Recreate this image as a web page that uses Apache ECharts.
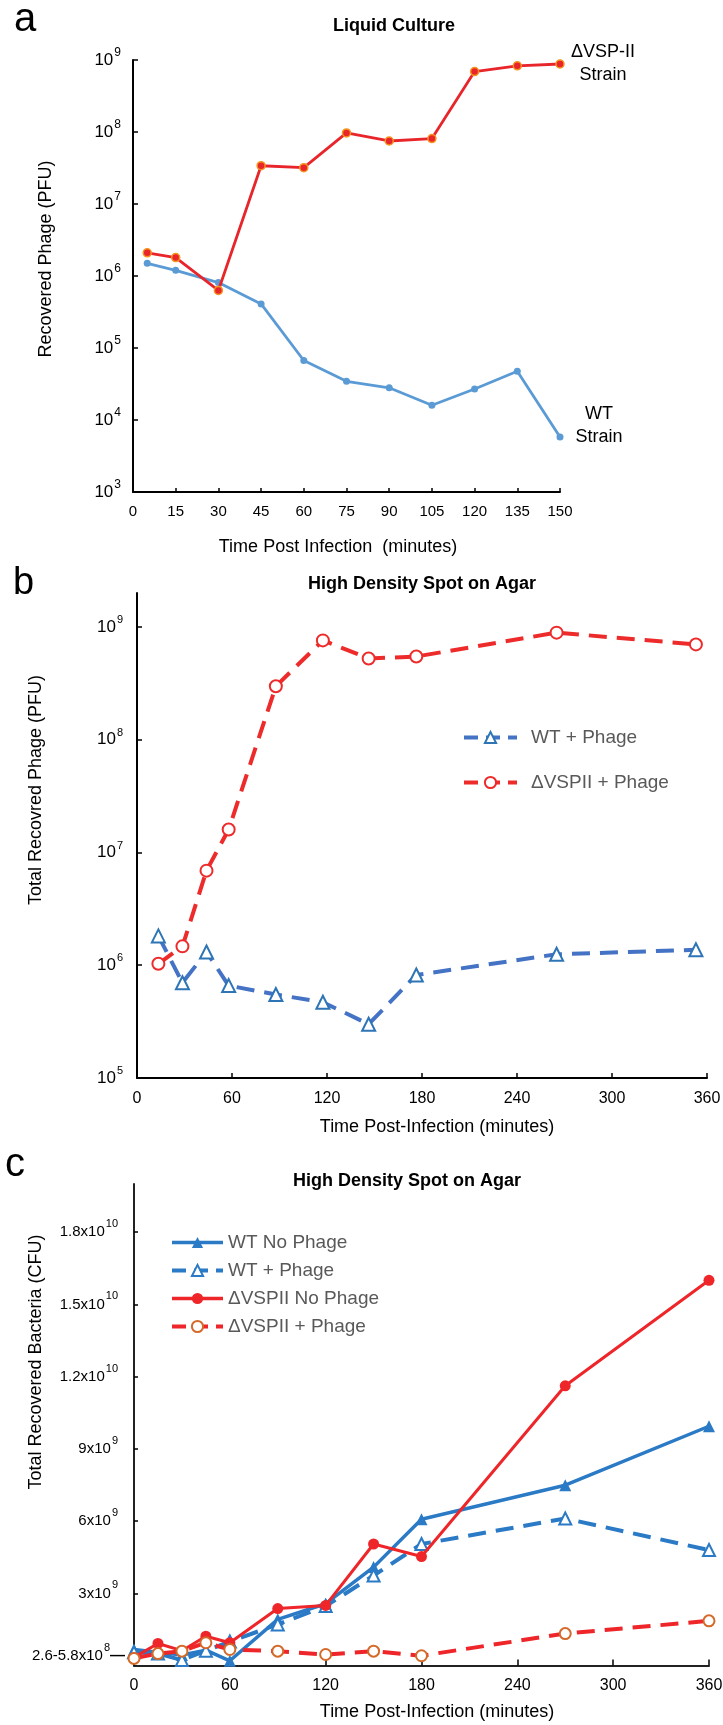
<!DOCTYPE html>
<html><head><meta charset="utf-8">
<script src="https://cdn.jsdelivr.net/npm/echarts@6/dist/echarts.min.js"></script>
<style>html,body{margin:0;padding:0;background:#fff}#c{width:723px;height:1725px}</style>
</head><body><div id="c"></div>
<script>
// ---------- Panel a : Liquid Culture ----------
const timeA = [5, 15, 30, 45, 60, 75, 90, 105, 120, 135, 150];
const vspA  = [2.1e6, 1.8e6, 6.3e5, 3.4e7, 3.2e7, 9.7e7, 7.5e7, 8.1e7, 6.9e8, 8.3e8, 8.8e8];
const wtA   = [1.5e6, 1.2e6, 8.1e5, 4.1e5, 6.7e4, 3.45e4, 2.8e4, 1.6e4, 2.7e4, 4.75e4, 5.8e3];
const yTicksA = [1e3, 1e4, 1e5, 1e6, 1e7, 1e8, 1e9];

// ---------- Panel b : High Density Spot on Agar (phage) ----------
const timeB     = [13.5, 28.7, 43.9, 57.9, 87.7, 117.4, 146.3, 176.4, 265, 353];
const wtPhageB  = [1.82e6, 7.0e5, 1.31e6, 6.6e5, 5.5e5, 4.7e5, 3.0e5, 8.2e5, 1.25e6, 1.37e6];
const vspPhageB = [1.03e6, 1.47e6, 6.9e6, 1.6e7, 2.98e8, 7.6e8, 5.25e8, 5.47e8, 8.9e8, 7.0e8];
const yTicksB = [1e5, 1e6, 1e7, 1e8, 1e9];

// ---------- Panel c : High Density Spot on Agar (bacteria) ----------
const timeC   = [0, 15, 30, 45, 60, 90, 120, 150, 180, 270, 360];
const wtNoC   = [0.67e9, 0.55e9, 0.44e9, 0.64e9, 0.2e9, 1.92e9, 2.57e9, 4.09e9, 6.08e9, 7.49e9, 9.94e9];
const wtPhC   = [0.55e9, 0.5e9, 0.23e9, 0.62e9, 1.0e9, 1.71e9, 2.47e9, 3.74e9, 5.05e9, 6.11e9, 4.8e9];
const vspNoC  = [0.34e9, 0.92e9, 0.62e9, 1.22e9, 0.95e9, 2.37e9, 2.5e9, 5.05e9, 4.53e9, 11.62e9, 16.0e9];
const vspPhC  = [0.3e9, 0.5e9, 0.6e9, 0.95e9, 0.67e9, 0.6e9, 0.46e9, 0.6e9, 0.41e9, 1.33e9, 1.86e9];
const yTicksC = [4.2e8, 3e9, 6e9, 9e9, 1.2e10, 1.5e10, 1.8e10];
const yTickLabelsC = [['2.6-5.8x10','8'], ['3x10','9'], ['6x10','9'], ['9x10','9'], ['1.2x10','10'], ['1.5x10','10'], ['1.8x10','10']];

const F = '"Liberation Sans", Arial, Helvetica, sans-serif';
const pairs = (xs, ys) => xs.map((x, i) => [x, ys[i]]);

function supRich(base, sup, padR) {
  return {
    b: {fontSize: base, fontFamily: F, color: '#000', verticalAlign: 'bottom', lineHeight: base},
    s: {fontSize: sup, fontFamily: F, color: '#000', verticalAlign: 'bottom', lineHeight: sup, padding: [0, padR, 10, 1]},
    s0: {fontSize: sup, fontFamily: F, color: '#000', verticalAlign: 'bottom', lineHeight: sup, padding: [0, 0, 10, 1]},
    d: {fontSize: base, fontFamily: F, fontWeight: 'bold', color: '#000', verticalAlign: 'bottom', lineHeight: base}
  };
}
function axisLine(c) { return {show: true, onZero: false, lineStyle: {color: c || '#000', width: 2}}; }
function ticks(len, vals) {
  const t = {show: true, inside: true, length: len, lineStyle: {color: '#000', width: 1.5}};
  if (vals) t.customValues = vals;
  return t;
}
const logFmt = v => '{b|10}{s|' + Math.round(Math.log10(v)) + '}';
const DASH = [18, 10];

const option = {
  animation: false,
  backgroundColor: '#fff',
  grid: [
    {left: 133, top: 60, width: 427, height: 432, containLabel: false, outerBoundsMode: 'none'},
    {left: 137, top: 593, width: 570, height: 485, containLabel: false, outerBoundsMode: 'none'},
    {left: 134, top: 1184, width: 575, height: 481.6, containLabel: false, outerBoundsMode: 'none'}
  ],
  xAxis: [
    {gridIndex: 0, type: 'value', min: 0, max: 150, interval: 15, axisLine: axisLine(), axisTick: ticks(4),
     splitLine: {show: false}, axisLabel: {fontSize: 15, fontFamily: F, color: '#000', margin: 12}},
    {gridIndex: 1, type: 'value', min: 0, max: 360, interval: 60, axisLine: axisLine(), axisTick: ticks(5),
     splitLine: {show: false}, axisLabel: {fontSize: 16, fontFamily: F, color: '#000', margin: 13}},
    {gridIndex: 2, type: 'value', min: 0, max: 360, interval: 60, axisLine: axisLine('#222'), axisTick: ticks(6),
     splitLine: {show: false}, axisLabel: {fontSize: 16, fontFamily: F, color: '#000', margin: 12}}
  ],
  yAxis: [
    {gridIndex: 0, type: 'log', logBase: 10, min: 1e3, max: 1e9, axisLine: axisLine(), axisTick: ticks(5, yTicksA),
     splitLine: {show: false}, minorTick: {show: false},
     axisLabel: {customValues: yTicksA, formatter: logFmt, margin: 12, fontSize: 17, fontFamily: F, color: '#000',
       rich: supRich(17, 12, 0)}},
    {gridIndex: 1, type: 'log', logBase: 10, min: 1e5, max: 2e9, axisLine: axisLine(), axisTick: ticks(5, yTicksB),
     splitLine: {show: false}, minorTick: {show: false},
     axisLabel: {customValues: yTicksB, formatter: logFmt, margin: 14, fontSize: 17, fontFamily: F, color: '#000',
       rich: supRich(17, 11, 0)}},
    {gridIndex: 2, type: 'value', min: 0, max: 2e10, axisLine: axisLine('#222'), axisTick: ticks(4, yTicksC.slice(1)),
     splitLine: {show: false},
     axisLabel: {customValues: yTicksC, margin: 9, fontSize: 15, fontFamily: F, color: '#000', rich: supRich(15, 11, 7),
       formatter: v => {
         const i = yTicksC.findIndex(t => Math.abs(t - v) < 1e6);
         if (i < 0) return '';
         const [b, s] = yTickLabelsC[i];
         return i === 0 ? '{b|' + b + '}{s0|' + s + '}{d|—}' : '{b|' + b + '}{s|' + s + '}';
       }}}
  ],
  legend: [
    {orient: 'vertical', left: 462, top: 728, padding: 0, itemWidth: 53, itemHeight: 14, itemGap: 26,
     data: [
       {name: 'WT + Phage', lineStyle: {width: 4, type: [14, 8], color: '#4472C4'}},
       {name: 'ΔVSPII + Phage', lineStyle: {width: 4, type: [14, 8], color: '#EE2B2B'}}
     ],
     textStyle: {fontSize: 19, lineHeight: 19, fontFamily: F, color: '#595959', padding: [0, 0, 0, 9]}},
    {orient: 'vertical', left: 170, top: 1233, padding: 0, itemWidth: 51, itemHeight: 14, itemGap: 9,
     data: [
       {name: 'WT No Phage', lineStyle: {width: 3.5, type: 'solid', color: '#2A7AC6'}},
       {name: 'WT + Phage ', lineStyle: {width: 4, type: [14, 8], color: '#2A7AC6'}},
       {name: 'ΔVSPII No Phage', lineStyle: {width: 3.5, type: 'solid', color: '#EE2529'}},
       {name: 'ΔVSPII + Phage ', lineStyle: {width: 4, type: [14, 8], color: '#EE2529'}}
     ],
     formatter: n => n.trim(),
     textStyle: {fontSize: 19, lineHeight: 19, fontFamily: F, color: '#595959'}}
  ],
  series: [
    // panel a
    {name: 'WT Strain', type: 'line', xAxisIndex: 0, yAxisIndex: 0, data: pairs(timeA, wtA),
     symbol: 'circle', symbolSize: 7, lineStyle: {color: '#5B9BD5', width: 2.8},
     itemStyle: {color: '#5B9BD5'}, z: 2},
    {name: 'ΔVSP-II Strain', type: 'line', xAxisIndex: 0, yAxisIndex: 0, data: pairs(timeA, vspA),
     symbol: 'circle', symbolSize: 8, lineStyle: {color: '#E8252B', width: 2.8},
     itemStyle: {color: '#E8252B', borderColor: '#F7941D', borderWidth: 1.5}, z: 3},
    // panel b
    {name: 'WT + Phage', type: 'line', xAxisIndex: 1, yAxisIndex: 1, data: pairs(timeB, wtPhageB),
     symbol: 'emptyTriangle', symbolSize: 13, lineStyle: {color: '#4472C4', width: 4, type: DASH},
     itemStyle: {color: '#2E75B6', borderWidth: 1.5}, z: 2},
    {name: 'ΔVSPII + Phage', type: 'line', xAxisIndex: 1, yAxisIndex: 1, data: pairs(timeB, vspPhageB),
     symbol: 'emptyCircle', symbolSize: 12, lineStyle: {color: '#EE2B2B', width: 4, type: DASH},
     itemStyle: {color: '#EE2B2B', borderWidth: 1.5}, z: 3},
    // panel c
    {name: 'WT No Phage', type: 'line', xAxisIndex: 2, yAxisIndex: 2, data: pairs(timeC, wtNoC),
     symbol: 'triangle', symbolSize: 12, lineStyle: {color: '#2A7AC6', width: 3.5},
     itemStyle: {color: '#2A7AC6'}, z: 2},
    {name: 'WT + Phage ', type: 'line', xAxisIndex: 2, yAxisIndex: 2, data: pairs(timeC, wtPhC),
     symbol: 'emptyTriangle', symbolSize: 12, lineStyle: {color: '#2A7AC6', width: 4, type: DASH},
     itemStyle: {color: '#2A7AC6', borderWidth: 1.5}, z: 2},
    {name: 'ΔVSPII No Phage', type: 'line', xAxisIndex: 2, yAxisIndex: 2, data: pairs(timeC, vspNoC),
     symbol: 'circle', symbolSize: 11, lineStyle: {color: '#EE2529', width: 3},
     itemStyle: {color: '#EE2529'}, z: 3},
    {name: 'ΔVSPII + Phage ', type: 'line', xAxisIndex: 2, yAxisIndex: 2, data: pairs(timeC, vspPhC),
     symbol: 'emptyCircle', symbolSize: 11, lineStyle: {color: '#EE2529', width: 4, type: DASH},
     itemStyle: {color: '#D46A2A', borderWidth: 1.5}, z: 3}
  ],
  graphic: []
};

function txt(text, x, y, size, opts) {
  opts = opts || {};
  return {type: 'text', x: x, y: y, rotation: opts.rot || 0, silent: true, z: 10,
    style: {text: text, font: (opts.bold ? 'bold ' : '') + size + 'px ' + F, fill: opts.color || '#000',
      textAlign: opts.align || 'center', align: opts.align || 'center',
      textVerticalAlign: 'middle', verticalAlign: 'middle'}};
}
option.graphic = [
  txt('a', 14, 20, 40, {align: 'left'}),
  txt('b', 13, 584, 38, {align: 'left'}),
  txt('c', 5, 1165, 40, {align: 'left'}),
  txt('Liquid Culture', 394, 26, 18, {bold: true}),
  txt('High Density Spot on Agar', 422, 584.5, 18, {bold: true}),
  txt('High Density Spot on Agar', 407, 1180.7, 18, {bold: true}),
  txt('Recovered Phage (PFU)', 46, 259, 18, {rot: Math.PI / 2}),
  txt('Time Post Infection  (minutes)', 338, 547, 18),
  txt('Total Recovred Phage (PFU)', 36, 790, 18, {rot: Math.PI / 2}),
  txt('Time Post-Infection (minutes)', 437, 1127, 18),
  txt('Total Recovered Bacteria (CFU)', 36, 1362, 18, {rot: Math.PI / 2}),
  txt('Time Post-Infection (minutes)', 437, 1712, 18),
  txt('ΔVSP-II', 603, 52, 18),
  txt('Strain', 603, 75, 18),
  txt('WT', 599, 414, 18),
  txt('Strain', 599, 437, 18)
];

const chart = echarts.init(document.getElementById('c'), null, {renderer: 'canvas', width: 723, height: 1725});
chart.setOption(option);
</script></body></html>
